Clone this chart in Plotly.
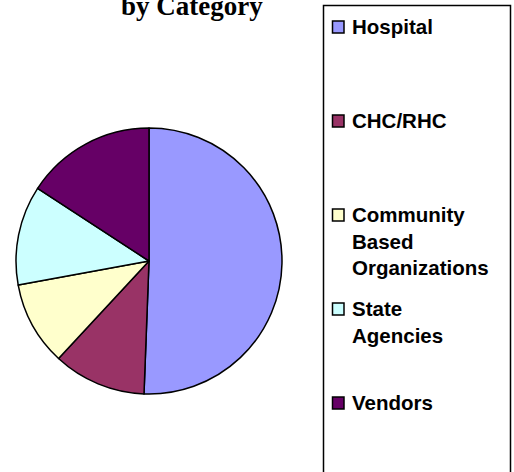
import plotly.graph_objects as go

categories = ["Hospital", "CHC/RHC", "Community Based Organizations", "State Agencies", "Vendors"]
legend_text = ["Hospital", "CHC/RHC", "Community<br>Based<br>Organizations", "State<br>Agencies", "Vendors"]
values = [50.6, 11.3, 10.2, 12.1, 15.8]
colors = ["#9999FF", "#993366", "#FFFFCC", "#CCFFFF", "#660066"]

W, H = 514, 472

def px_x(x):
    return x / W

def px_y(y):
    return 1 - y / H

fig = go.Figure()
fig.add_trace(go.Pie(
    labels=categories, values=values, sort=False, direction="clockwise", rotation=0,
    marker=dict(colors=colors, line=dict(color="black", width=1.5)),
    textinfo="none", hoverinfo="label+percent", showlegend=False,
    domain=dict(x=[px_x(16), px_x(282)], y=[px_y(394), px_y(128)]),
))

shapes = [dict(type="rect", xref="paper", yref="paper",
               x0=px_x(323.5), x1=px_x(510.5), y0=px_y(5.5), y1=px_y(480),
               line=dict(color="black", width=1.5), fillcolor="rgba(0,0,0,0)")]
annotations = [dict(text="<b>by Category</b>", xref="paper", yref="paper",
                    x=px_x(192), y=px_y(6), xanchor="center", yanchor="middle",
                    showarrow=False,
                    font=dict(family="Liberation Serif", size=27, color="black"))]

for i, (lab, col) in enumerate(zip(legend_text, colors)):
    cy = 27 + 94 * i
    shapes.append(dict(type="rect", xref="paper", yref="paper",
                       x0=px_x(332.5), x1=px_x(344), y0=px_y(cy - 6), y1=px_y(cy + 6),
                       line=dict(color="black", width=1.5), fillcolor=col))
    annotations.append(dict(text="<b>" + lab + "</b>", xref="paper", yref="paper",
                            x=px_x(350), y=px_y(cy - 14), xanchor="left", yanchor="top",
                            align="left", showarrow=False,
                            font=dict(family="Liberation Sans", size=20.5, color="black")))

fig.update_layout(
    width=W, height=H, margin=dict(l=0, r=0, t=0, b=0),
    paper_bgcolor="white", plot_bgcolor="white",
    shapes=shapes, annotations=annotations,
)

fig.write_html("out.html", config={"displayModeBar": False},
               post_script="document.body.style.margin='0';")
